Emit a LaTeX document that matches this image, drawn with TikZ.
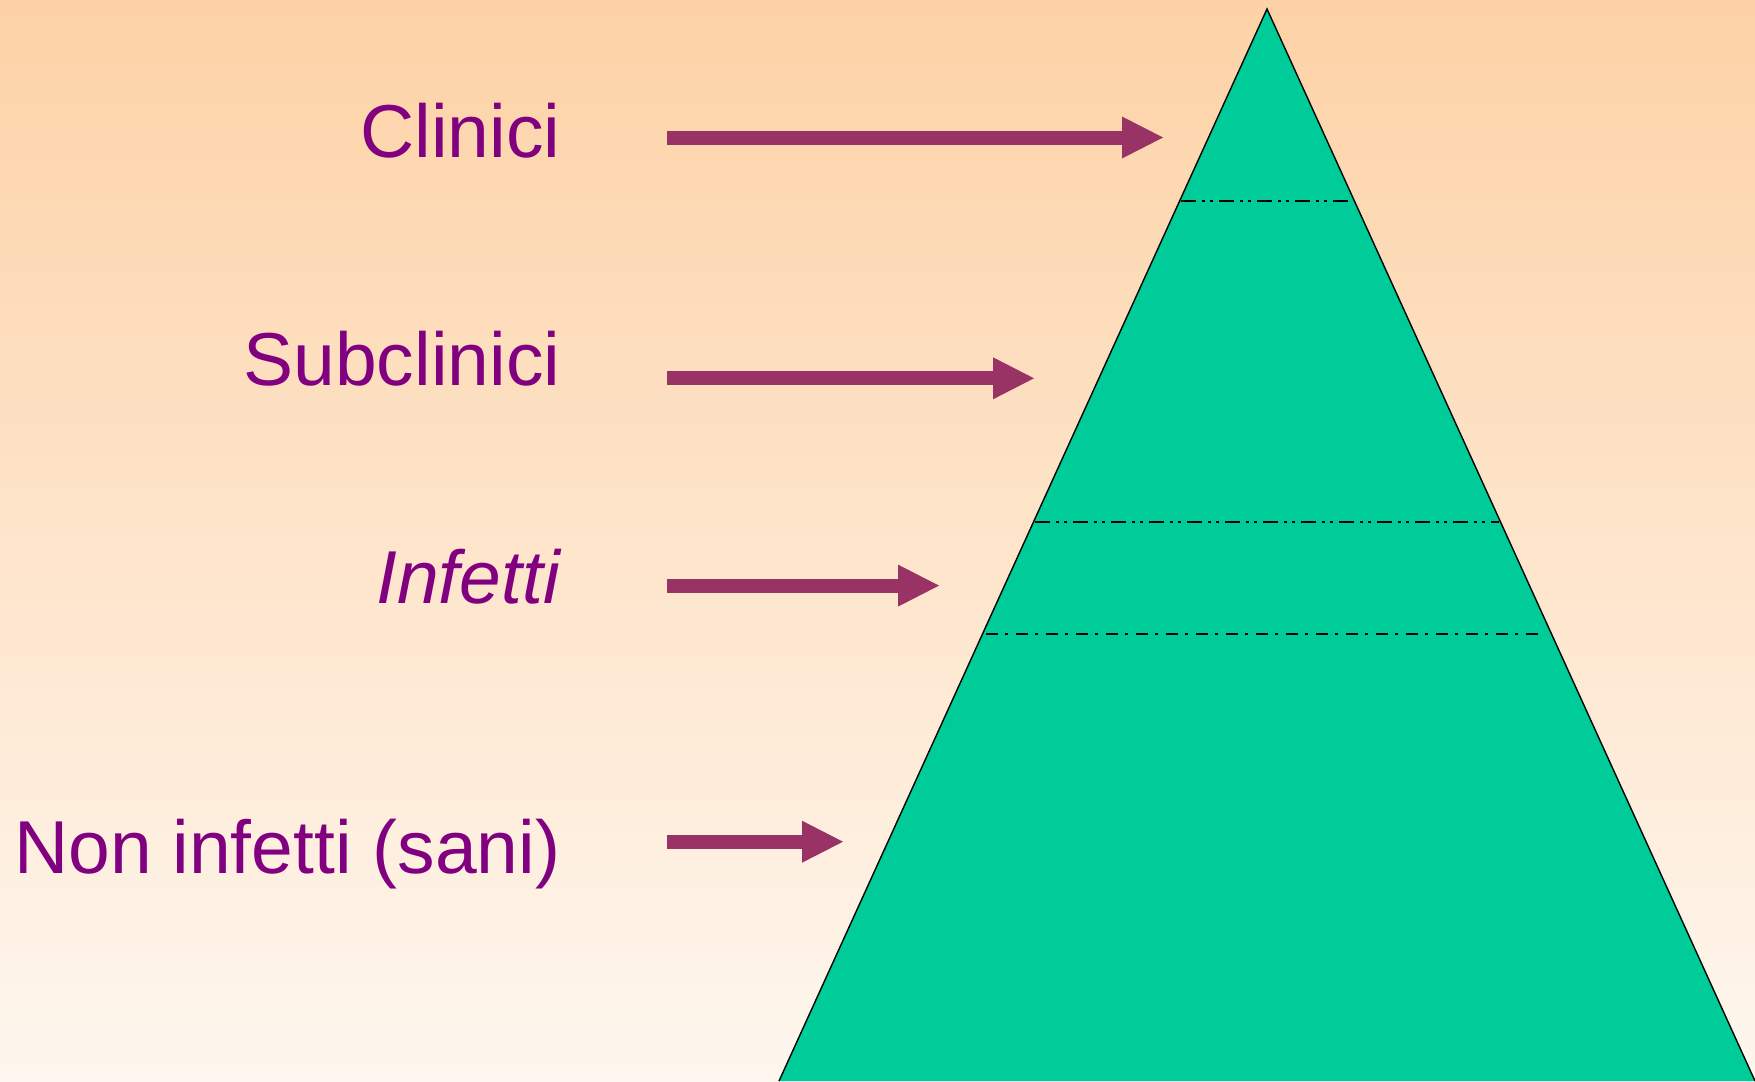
\documentclass[tikz,border=0pt]{standalone}
\usepackage{fontspec}
\setmainfont{Liberation Sans}
\usetikzlibrary{arrows.meta}
\definecolor{bgtop}{HTML}{FDD2A6}
\definecolor{bgmid}{HTML}{FEE6D6}
\definecolor{bgbot}{HTML}{FEF7EF}
\definecolor{pyr}{HTML}{00CC99}
\definecolor{arr}{HTML}{993366}
\definecolor{lbl}{HTML}{800080}
\begin{document}
\begin{tikzpicture}[x=1pt,y=-1pt,
  lab/.style={anchor=base east, inner sep=0pt, text=lbl, font=\fontsize{75}{90}\selectfont},
  bigarrow/.style={draw=arr, line width=14pt, -{Triangle[length=41pt,width=42pt,line width=0pt 0 0]}},
  ddline/.style={draw=black, line width=1.6pt, dash pattern=on 15pt off 6pt on 3pt off 5pt on 3pt off 6pt},
  dline/.style={draw=black, line width=1.6pt, dash pattern=on 12pt off 7pt on 3pt off 8pt},
  pyramid/.style={fill=pyr, draw=black, line width=1.4pt, line join=miter}]
\useasboundingbox (0,0) rectangle (1755,1081);
\shade[top color=bgtop, middle color=bgmid, bottom color=bgbot] (0,0) rectangle (1755,1081);
% pyramid
\coordinate (apex) at (1267,9);
\coordinate (bl) at (779,1081);
\coordinate (br) at (1755,1081);
\path[pyramid] (bl) -- (apex) -- (br);
% level lines
\coordinate (l1a) at (1181,201);  \coordinate (l1b) at (1353,201);
\coordinate (l2a) at (1035,521.7); \coordinate (l2b) at (1499,521.7);
\coordinate (l3a) at (986,633.7);  \coordinate (l3b) at (1542,633.7);
\draw[ddline] (l1a) -- (l1b);
\draw[ddline] (l2a) -- (l2b);
\draw[dline] (l3a) -- (l3b);
% labels
\node[lab] (clin) at (560.5,157) {Clinici};
\node[lab] (sub) at (560.5,385) {Subclinici};
\node[lab] (inf) at (560,603) {\itshape Infetti};
\node[lab] (non) at (560.5,873) {Non infetti (sani)};
% arrows
\coordinate (a1s) at (667,137.5); \coordinate (a1e) at (1163,137.5);
\coordinate (a2s) at (667,378.3); \coordinate (a2e) at (1034,378.3);
\coordinate (a3s) at (667,585.6); \coordinate (a3e) at (939,585.6);
\coordinate (a4s) at (667,841.7); \coordinate (a4e) at (843,841.7);
\draw[bigarrow] (a1s) -- (a1e);
\draw[bigarrow] (a2s) -- (a2e);
\draw[bigarrow] (a3s) -- (a3e);
\draw[bigarrow] (a4s) -- (a4e);
\end{tikzpicture}
\end{document}
